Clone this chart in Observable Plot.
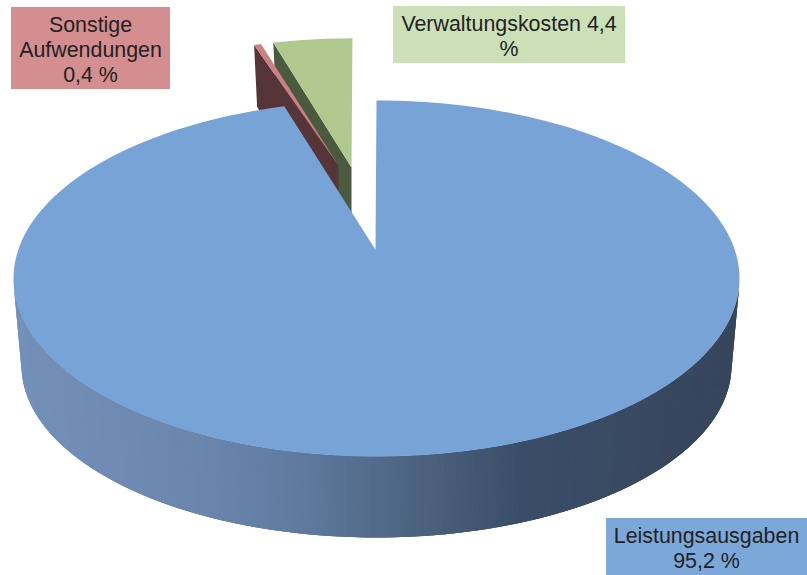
<!DOCTYPE html>
<html><head><meta charset="utf-8">
<script src="https://cdn.jsdelivr.net/npm/d3@7"></script>
<script src="https://cdn.jsdelivr.net/npm/@observablehq/plot@0.6"></script>
<style>html,body{margin:0;padding:0;background:#fff}svg{display:block}</style>
</head><body><div id="chart"></div>
<script>
const categories = ["Leistungsausgaben", "Sonstige Aufwendungen", "Verwaltungskosten"];
const shares = [95.2, 0.4, 4.4];
const labelLines = [["Leistungsausgaben", "95,2 %"], ["Sonstige", "Aufwendungen", "0,4 %"], ["Verwaltungskosten 4,4", "%"]];
const faceColors = ["#78A3D6", "#CC8082", "#AFC98F"];
const wallColors = ["#3A4A62", "#553538", "#4A5A3E"];
const boxColors = ["#7BA7D9", "#D48E90", "#CCE0B8"];
const wallRamp = ["#7390B9", "#6A86AD", "#5F7A9E", "#4E6582", "#3A4D68", "#37465C"];

// View of the pie: an ellipse for the top rim, another for the bottom rim, with perspective.
const top_ = {cx: 376, cy: 278, rx: 363, ry: 178};
const bot = {cx: 376, cy: 365, rx: 355, ry: 172};
const persp = 0.85;
const rad = (share) => share / 100 * 2 * Math.PI;
const phi = (t) => 2 * Math.atan2(persp * Math.sin(t / 2), Math.cos(t / 2));
const onEllipse = (e, p) => [e.cx + e.rx * Math.sin(p), e.cy - e.ry * Math.cos(p)];
const hub = onEllipse(top_, phi(Math.PI / 2)).map((v, i) => i ? v : top_.cx - 1);

// Cumulative angular spans of the slices, clockwise from 12 o'clock.
let acc = 0;
const spans = shares.map((s) => { const a = [acc, acc + s]; acc += s; return a; });

// Exploded slices: apex shift and shrink with distance.
const explode = [
  {apex: hub, sx: 1, sy: 1, depth: 0},
  {apex: [338, 165], sx: 0.925, sy: 0.84, depth: 62},
  {apex: [351, 167], sx: 0.935, sy: 0.865, depth: 62}
];
const rimPoint = (i, share) => {
  const [x, y] = onEllipse(top_, phi(rad(share)));
  const ex = explode[i];
  return [ex.apex[0] + ex.sx * (x - hub[0]), ex.apex[1] + ex.sy * (y - hub[1])];
};
const facePoly = (i) => {
  const [a, b] = spans[i];
  const n = Math.max(4, Math.ceil((b - a) * 2));
  const pts = [explode[i].apex];
  for (let k = 0; k <= n; ++k) pts.push(rimPoint(i, a + (b - a) * k / n));
  return pts.map(([x, y]) => ({x, y, id: categories[i]}));
};
const wallPoly = (i) => {
  const rim = rimPoint(i, spans[i][0]);
  const ex = explode[i];
  return [rim, ex.apex, [ex.apex[0], ex.apex[1] + ex.depth], [rim[0] + 3, rim[1] + ex.depth]]
    .map(([x, y]) => ({x, y, id: categories[i]}));
};

// Front wall of the big slice: overlapping strips shaded across the width, so no seams show.
const ramp = d3.scaleLinear().domain([20, 200, 300, 400, 520, 700]).range(wallRamp).clamp(true);
const strips = [];
const N = 180;
const wallFrom = 0.51, wallSpan = 0.98;
for (let k = 0; k < N; ++k) {
  const p0 = Math.PI * (wallFrom + wallSpan - wallSpan * k / N);
  const p2 = Math.max(Math.PI * (wallFrom + wallSpan - wallSpan * (k + 3) / N), Math.PI * wallFrom);
  const a = onEllipse(top_, p0), b = onEllipse(top_, p2), c = onEllipse(bot, p2), d = onEllipse(bot, p0);
  const col = ramp((a[0] + d[0]) / 2);
  for (const [x, y] of [a, b, c, d]) strips.push({x, y, id: k, col});
}

const closed = (data, fill) => Plot.line(data, {x: "x", y: "y", z: "id", fill, stroke: "none", curve: "linear-closed"});

// Label boxes
const boxes = [
  {x1: 606, x2: 807, y1: 518, y2: 575, i: 0},
  {x1: 11, x2: 170, y1: 7, y2: 89, i: 1},
  {x1: 393, x2: 625, y1: 6, y2: 63, i: 2}
];
const texts = boxes.flatMap((b) => labelLines[b.i].map((t, j) => ({
  t, x: (b.x1 + b.x2) / 2 - 0.5, y: b.y1 + 18 + j * 24.6
})));

const chart = Plot.plot({
  width: 807, height: 575, margin: 0,
  style: {background: "#fff", fontFamily: "'Liberation Sans', Arial, sans-serif"},
  x: {domain: [0, 807], range: [0, 807], axis: null},
  y: {domain: [0, 575], range: [0, 575], axis: null},
  color: {type: "identity"},
  marks: [
    closed(wallPoly(2), wallColors[2]),
    closed(facePoly(2), faceColors[2]),
    closed(wallPoly(1), wallColors[1]),
    closed(facePoly(1), faceColors[1]),
    Plot.line(strips, {x: "x", y: "y", z: "id", fill: "col", stroke: "none", curve: "linear-closed"}),
    closed(facePoly(0), faceColors[0]),
    Plot.rect(boxes, {x1: "x1", x2: "x2", y1: "y1", y2: "y2", fill: (d) => boxColors[d.i]}),
    Plot.text(texts, {x: "x", y: "y", text: "t", fontSize: 21.4, fill: "#222", textAnchor: "middle"})
  ]
});
document.getElementById("chart").append(chart);
</script></body></html>
